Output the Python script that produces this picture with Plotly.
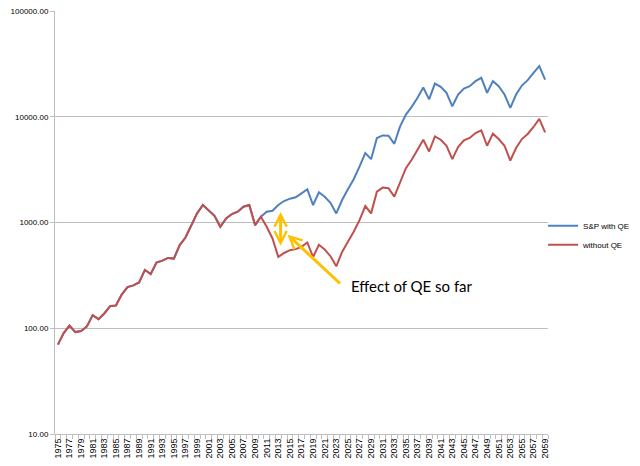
import plotly.graph_objects as go

# years on the category axis
years = list(range(1975, 2060))

# common history up to 2010 (both series are the same here)
history = [70, 90, 106, 92, 94, 104, 133, 122, 138, 162,
           164, 208, 245, 254, 271, 356, 326, 418, 436, 462,
           456, 612, 721, 944, 1220, 1463, 1291, 1158, 910, 1094,
           1203, 1265, 1410, 1463, 944, 1133]

# 2011 - 2059
with_qe_after = [1265, 1291, 1463, 1596, 1680, 1730, 1888, 2061, 1463, 1931,
                 1754, 1538, 1219, 1633, 2061, 2564, 3381, 4529, 3972, 6290,
                 6660, 6610, 5550, 8110, 10470, 12400, 15100, 18900, 14600, 20600,
                 19190, 16830, 12560, 16220, 18490, 19460, 21700, 23340, 16830, 21700,
                 19460, 16220, 12130, 16220, 19730, 22170, 26050, 30130, 22480]

without_qe_after = [910, 706, 472, 515, 547, 560, 588, 647, 472, 615,
                    556, 480, 385, 527, 656, 817, 1054, 1432, 1220, 1958,
                    2137, 2109, 1754, 2436, 3265, 3917, 4875, 6067, 4692, 6520,
                    6067, 5320, 3975, 5167, 5975, 6295, 7020, 7430, 5320, 6917,
                    6152, 5320, 3856, 5058, 6152, 6870, 8000, 9530, 7110]

with_qe = history + with_qe_after
without_qe = history + without_qe_after

y_ticks = [10, 100, 1000, 10000, 100000]
y_labels = ["10.00", "100.00", "1000.00", "10000.00", "100000.00"]
x_ticks = years[::2]

GRID = "#bfbfbf"
YELLOW = "#FFC000"

fig = go.Figure()
fig.add_trace(go.Scatter(x=years, y=with_qe, mode="lines", name="S&P with QE",
                         line=dict(color="#4F81BD", width=2)))
fig.add_trace(go.Scatter(x=years, y=without_qe, mode="lines", name="without QE",
                         line=dict(color="#C0504D", width=2)))

# double headed arrow (gap between the lines in 2013)
fig.add_annotation(x=2013.4, y=3.1, ax=2013.4, ay=2.765, xref="x", yref="y",
                   axref="x", ayref="y", text="", showarrow=True,
                   arrowhead=5, startarrowhead=5, arrowside="end+start",
                   arrowsize=0.8, startarrowsize=0.8,
                   arrowwidth=3, arrowcolor=YELLOW)
# pointer arrow from the label
fig.add_annotation(x=2014.6, y=2.885, ax=2023.9, ay=2.41, xref="x", yref="y",
                   axref="x", ayref="y", text="", showarrow=True,
                   arrowhead=5, arrowsize=0.8, arrowwidth=3, arrowcolor=YELLOW)
fig.add_annotation(x=2025.2, y=2.402, xref="x", yref="y", text="Effect of QE so far",
                   showarrow=False, xanchor="left", yanchor="middle",
                   font=dict(family="Lato", size=15, color="black"))

fig.update_xaxes(range=[1974.5, 2059.5], tickmode="array", tickvals=x_ticks,
                 ticktext=[str(v) for v in x_ticks], tickangle=-90,
                 tickfont=dict(family="Liberation Sans", size=9, color="#000000"),
                 showgrid=False, showline=True, linecolor=GRID, linewidth=1,
                 ticks="", zeroline=False, automargin=False, ticklabeloverflow="allow",
                 minor=dict(tickmode="linear", tick0=1974.5, dtick=1,
                            ticks="outside", ticklen=4, tickcolor=GRID, showgrid=False))
fig.update_yaxes(type="log", range=[1, 5], tickmode="array", tickvals=y_ticks,
                 ticktext=y_labels,
                 tickfont=dict(family="Liberation Sans", size=8, color="#000000"),
                 showgrid=True, gridcolor=GRID, gridwidth=1,
                 showline=True, linecolor=GRID, linewidth=1, automargin=False,
                 ticklabeloverflow="allow",
                 ticks="outside", ticklen=4, tickcolor=GRID, zeroline=False)

# page is drawn with an 8px body margin, so size the figure to fit the window
fig.update_layout(width=632, height=458,
                  margin=dict(l=47, r=92, t=3, b=32, autoexpand=False),
                  paper_bgcolor="white", plot_bgcolor="white",
                  showlegend=True,
                  legend=dict(x=0.99, y=0.47, xanchor="left", yanchor="middle",
                              font=dict(family="Liberation Sans", size=8, color="#000000"),
                              bgcolor="rgba(0,0,0,0)", itemwidth=30,
                              tracegroupgap=0))

fig.write_html("out.html")
